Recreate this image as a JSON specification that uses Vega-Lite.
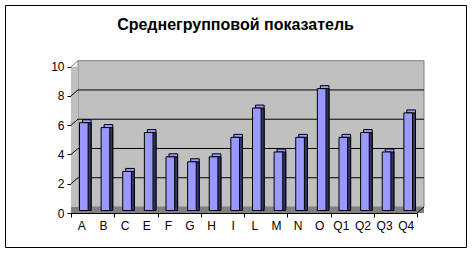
{
  "$schema": "https://vega.github.io/schema/vega-lite/v6.json",
  "width": 461,
  "height": 242,
  "autosize": {"type": "none"},
  "padding": {"left": 5, "top": 5, "right": 7, "bottom": 6},
  "background": "white",
  "title": {
    "text": "Среднегрупповой показатель",
    "fontSize": 16,
    "fontWeight": "bold",
    "font": "Liberation Sans",
    "color": "black",
    "anchor": "middle",
    "frame": "group",
    "baseline": "alphabetic",
    "offset": -40.5
  },
  "config": {
    "view": {"stroke": "black", "strokeWidth": 1},
    "font": "Liberation Sans"
  },
  "datasets": {
    "scores": [
      {"cat": "A", "value": 6.0},
      {"cat": "B", "value": 5.67},
      {"cat": "C", "value": 2.67},
      {"cat": "E", "value": 5.33},
      {"cat": "F", "value": 3.67},
      {"cat": "G", "value": 3.33},
      {"cat": "H", "value": 3.67},
      {"cat": "I", "value": 5.0},
      {"cat": "L", "value": 7.0},
      {"cat": "M", "value": 4.0},
      {"cat": "N", "value": 5.0},
      {"cat": "O", "value": 8.33},
      {"cat": "Q1", "value": 5.0},
      {"cat": "Q2", "value": 5.33},
      {"cat": "Q3", "value": 4.0},
      {"cat": "Q4", "value": 6.67}
    ],
    "grid": [{"v": 2}, {"v": 4}, {"v": 6}, {"v": 8}],
    "frame": [{"part": "wall"}]
  },
  "layer": [
    {
      "layer": [
        {
          "data": {"name": "frame"},
          "mark": {"type": "rect", "fill": "#c0c0c0", "stroke": "#808080", "strokeWidth": 1, "xOffset": 7, "x2Offset": 7, "yOffset": -6, "y2Offset": -6},
          "encoding": {
            "x": {"datum": 0, "type": "quantitative",
              "scale": {"domain": [0, 16], "range": [66, 412], "nice": false, "zero": false},
              "axis": {"orient": "bottom", "offset": -34, "values": [0,1,2,3,4,5,6,7,8,9,10,11,12,13,14,15,16], "labels": false, "domain": false, "ticks": true, "tickSize": 4, "tickColor": "black", "grid": false, "title": null}},
            "x2": {"datum": 16},
            "y": {"datum": 0, "type": "quantitative", "title": null,
              "scale": {"domain": [0, 10], "range": [208, 61.7], "nice": false}},
            "y2": {"datum": 10}
          }
        },
        {
          "data": {"name": "frame"},
          "mark": {"type": "rect", "fill": "#c0c0c0", "x2Offset": 7},
          "encoding": {
            "x": {"datum": 0, "type": "quantitative"},
            "x2": {"datum": 0},
            "y": {"datum": 0, "type": "quantitative", "title": null},
            "y2": {"datum": 10}
          }
        },
        {
          "data": {"name": "frame"},
          "mark": {"type": "rule", "stroke": "#808080", "strokeWidth": 1, "x2Offset": 7, "y2Offset": -6},
          "encoding": {
            "x": {"datum": 0, "type": "quantitative"},
            "x2": {"datum": 0},
            "y": {"datum": 10, "type": "quantitative", "title": null},
            "y2": {"datum": 10}
          }
        },
        {
          "data": {"name": "frame"},
          "mark": {"type": "rect", "fill": "#808080", "x2Offset": 7, "y2Offset": -6},
          "encoding": {
            "x": {"datum": 0, "type": "quantitative"},
            "x2": {"datum": 16},
            "y": {"datum": 0, "type": "quantitative", "title": null},
            "y2": {"datum": 0}
          }
        },
        {
          "data": {"name": "grid"},
          "mark": {"type": "rule", "stroke": "black", "strokeWidth": 1, "xOffset": 7, "x2Offset": 7, "yOffset": -6, "y2Offset": -6},
          "encoding": {
            "x": {"datum": 0, "type": "quantitative"},
            "x2": {"datum": 16},
            "y": {"field": "v", "type": "quantitative", "title": null}
          }
        },
        {
          "data": {"name": "grid"},
          "mark": {"type": "rule", "stroke": "black", "strokeWidth": 1, "x2Offset": 7, "y2Offset": -6},
          "encoding": {
            "x": {"datum": 0, "type": "quantitative"},
            "x2": {"datum": 0},
            "y": {"field": "v", "type": "quantitative", "title": null},
            "y2": {"field": "v"}
          }
        },
        {
          "data": {"name": "frame"},
          "mark": {"type": "rule", "stroke": "black", "strokeWidth": 1, "x2Offset": 7, "y2Offset": -6},
          "encoding": {
            "x": {"datum": 16, "type": "quantitative"},
            "x2": {"datum": 16},
            "y": {"datum": 0, "type": "quantitative", "title": null},
            "y2": {"datum": 0}
          }
        }
      ]
    },
    {
      "data": {"name": "scores"},
      "encoding": {
        "x": {"field": "cat", "type": "nominal", "sort": null,
          "scale": {"range": [66, 412], "paddingInner": 0, "paddingOuter": 0},
          "axis": {"orient": "bottom", "offset": -34, "ticks": false, "tickSize": 0, "labelFontSize": 12, "labelColor": "black", "labelPadding": 7, "labelAngle": 0, "domainColor": "black", "title": null, "grid": false}},
        "y": {"field": "value", "type": "quantitative", "title": null,
          "scale": {"domain": [0, 10], "range": [208, 61.7], "nice": false},
          "axis": {"orient": "left", "offset": -66, "values": [0, 2, 4, 6, 8, 10], "tickSize": 4, "labelPadding": 3, "domainColor": "black", "tickColor": "black", "labelColor": "black", "labelFontSize": 12, "grid": false, "title": null}}
      },
      "layer": [
        {"mark": {"type": "bar", "fill": "#9999ff", "stroke": "black", "strokeWidth": 1, "width": {"band": 0.4}, "xOffset": 5, "yOffset": -5.5, "y2Offset": -5.5}},
        {"mark": {"type": "bar", "fill": "#333366", "stroke": "black", "strokeWidth": 1, "width": {"band": 0.4}, "xOffset": 5, "yOffset": -2.5, "y2Offset": -2.5}},
        {"mark": {"type": "bar", "fill": "#9999ff", "stroke": "black", "strokeWidth": 1, "width": {"band": 0.4}, "xOffset": 2, "yOffset": -2.5, "y2Offset": -2.5}}
      ]
    }
  ],
  "resolve": {"scale": {"x": "independent"}, "axis": {"x": "independent"}}
}
